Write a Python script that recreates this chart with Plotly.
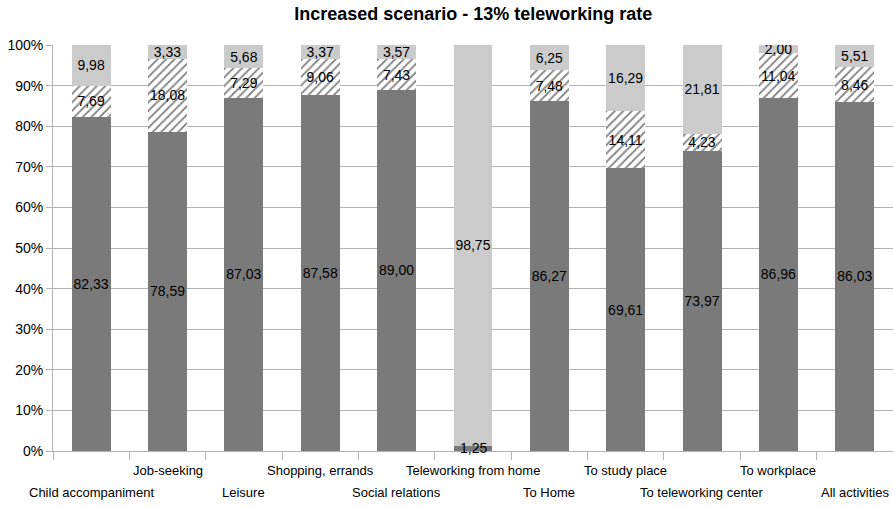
import plotly.graph_objects as go

categories = ["Child accompaniment", "Job-seeking", "Leisure", "Shopping, errands",
              "Social relations", "Teleworking from home", "To Home", "To study place",
              "To teleworking center", "To workplace", "All activities"]
dark_vals = [82.33, 78.59, 87.03, 87.58, 89.00, 1.25, 86.27, 69.61, 73.97, 86.96, 86.03]
hatch_vals = [7.69, 18.08, 7.29, 9.06, 7.43, 0.0, 7.48, 14.11, 4.23, 11.04, 8.46]
light_vals = [9.98, 3.33, 5.68, 3.37, 3.57, 98.75, 6.25, 16.29, 21.81, 2.00, 5.51]
y_ticks = [0, 10, 20, 30, 40, 50, 60, 70, 80, 90, 100]

FONT = "Liberation Sans, Arial, sans-serif"
THIN = 1.9  # segments thinner than this get their label as an annotation

def fmt(v):
    return ("%.2f" % v).replace(".", ",")

def inside_text(vals):
    return [fmt(v) if v >= THIN else "" for v in vals]

fig = go.Figure()
common = dict(textposition="inside", insidetextanchor="middle", textangle=0,
              textfont=dict(color="black", size=14, family=FONT), hoverinfo="skip",
              constraintext="none")
fig.add_trace(go.Bar(x=categories, y=dark_vals, text=inside_text(dark_vals),
                     marker=dict(color="#7a7a7a", line=dict(width=0)), **common))
fig.add_trace(go.Bar(x=categories, y=hatch_vals, text=inside_text(hatch_vals),
                     marker=dict(color="white", line=dict(width=0),
                                 pattern=dict(shape="/", fgcolor="black", bgcolor="white",
                                              size=6, solidity=0.3)), **common))
fig.add_trace(go.Bar(x=categories, y=light_vals, text=inside_text(light_vals),
                     marker=dict(color="#cbcbcb", line=dict(width=0)), **common))

annotations = []
for i, v in enumerate(dark_vals):
    if 0 < v < THIN:
        annotations.append(dict(x=i, xref="x", y=v / 2, yref="y", text=fmt(v),
                                showarrow=False, xanchor="center", yanchor="middle",
                                font=dict(size=14, family=FONT, color="black")))
for i, c in enumerate(categories):
    annotations.append(dict(x=i, xref="x", y=0, yref="y", text=c, showarrow=False,
                            xanchor="center", yanchor="top",
                            yshift=-10 if i % 2 == 1 else -32,
                            font=dict(size=13, family=FONT, color="black")))

fig.update_layout(
    barmode="stack", bargap=0.49, width=893, height=507, showlegend=False,
    plot_bgcolor="white", paper_bgcolor="white",
    margin=dict(l=53, r=0, t=45, b=56),
    font=dict(family=FONT, size=14, color="black"),
    annotations=annotations,
    title=dict(text="<b>Increased scenario - 13% teleworking rate</b>", x=0.53, xanchor="center",
               y=0.985, yanchor="top",
               font=dict(family=FONT, size=18, color="black")),
)
fig.update_xaxes(type="category", range=[-0.5, len(categories) - 0.5], autorange=False,
                 tickmode="array", tickvals=categories, showticklabels=False,
                 tickson="boundaries", ticks="outside", ticklen=8, tickcolor="#b3b3b3",
                 showgrid=False, showline=True, linecolor="#b3b3b3")
fig.update_yaxes(range=[0, 100], tickmode="array", tickvals=y_ticks,
                 ticktext=["%d%%" % v for v in y_ticks],
                 ticks="outside", ticklen=6, tickcolor="#b3b3b3",
                 showgrid=True, gridcolor="#b3b3b3", showline=True, linecolor="#b3b3b3",
                 zeroline=False, tickfont=dict(size=14, family=FONT, color="black"))

fig.write_html("out.html")
